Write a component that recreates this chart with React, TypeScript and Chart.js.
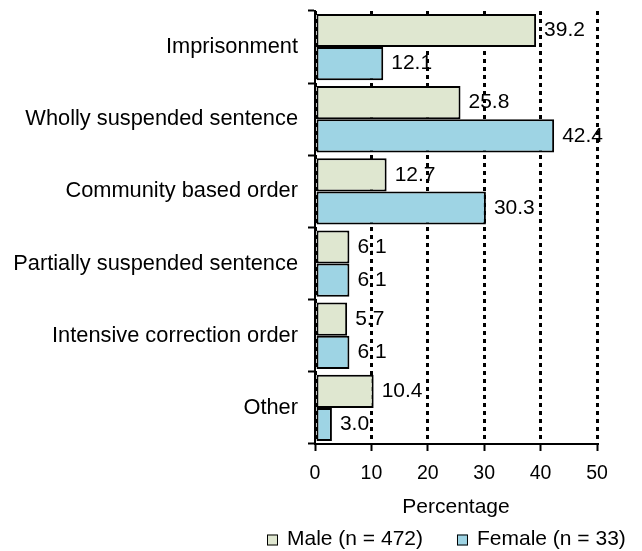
import React, { useEffect, useRef } from "react";
import { Chart, registerables } from "chart.js";

Chart.register(...registerables);

const categories = [
  "Imprisonment",
  "Wholly suspended sentence",
  "Community based order",
  "Partially suspended sentence",
  "Intensive correction order",
  "Other",
];
const maleValues = [39.2, 25.8, 12.7, 6.1, 5.7, 10.4];
const femaleValues = [12.1, 42.4, 30.3, 6.1, 6.1, 3.0];
const seriesLabels = ["Male (n = 472)", "Female (n = 33)"];
const seriesColors = ["#DFE7D0", "#9ED4E4"];
const xMin = 0;
const xMax = 50;
const xStep = 10;
const axisTitle = "Percentage";

const FONT = "'Liberation Sans', Arial, sans-serif";

const valueLabelPlugin = {
  id: "valueLabels",
  afterDatasetsDraw(chart: any) {
    const ctx = chart.ctx;
    ctx.save();
    ctx.font = `21px ${FONT}`;
    ctx.fillStyle = "#000";
    ctx.textAlign = "left";
    ctx.textBaseline = "middle";
    chart.data.datasets.forEach((ds: any, di: number) => {
      const meta = chart.getDatasetMeta(di);
      meta.data.forEach((el: any, i: number) => {
        const v = ds.data[i];
        ctx.fillText(Number(v).toFixed(1), el.x + 8, el.y);
      });
    });
    ctx.restore();
  },
};

const customLegendPlugin = {
  id: "customLegend",
  afterDraw(chart: any) {
    const ctx = chart.ctx;
    ctx.save();
    ctx.font = `21px ${FONT}`;
    ctx.textBaseline = "middle";
    ctx.textAlign = "left";
    let x = 267;
    const yCenter = 539;
    const box = 11;
    chart.data.datasets.forEach((ds: any) => {
      ctx.fillStyle = ds.backgroundColor;
      ctx.fillRect(x, yCenter - box / 2 + 1, box, box);
      ctx.strokeStyle = "#000";
      ctx.lineWidth = 1;
      ctx.strokeRect(x + 0.5, yCenter - box / 2 + 1.5, box - 1, box - 1);
      ctx.fillStyle = "#000";
      const tx = x + box + 9;
      ctx.fillText(ds.label, tx, yCenter);
      x = tx + ctx.measureText(ds.label).width + 34;
    });
    ctx.restore();
  },
};

export default function App() {
  const ref = useRef<HTMLCanvasElement | null>(null);

  useEffect(() => {
    if (!ref.current) return;
    const chart = new Chart(ref.current, {
      type: "bar",
      data: {
        labels: categories,
        datasets: [
          {
            label: seriesLabels[0],
            data: maleValues,
            backgroundColor: seriesColors[0],
            borderColor: "#000",
            borderWidth: 2,
            borderSkipped: false,
            categoryPercentage: 0.92,
            barPercentage: 1,
          },
          {
            label: seriesLabels[1],
            data: femaleValues,
            backgroundColor: seriesColors[1],
            borderColor: "#000",
            borderWidth: 2,
            borderSkipped: false,
            categoryPercentage: 0.92,
            barPercentage: 1,
          },
        ],
      },
      options: {
        indexAxis: "y",
        responsive: false,
        animation: false,
        layout: { padding: { top: 11, right: 45, bottom: 0, left: 0 } },
        plugins: {
          legend: { display: false },
          tooltip: { enabled: false },
        },
        scales: {
          x: {
            type: "linear",
            position: "bottom",
            min: xMin,
            max: xMax,
            ticks: {
              stepSize: xStep,
              color: "#000",
              padding: 11,
              font: { family: FONT, size: 19.5 },
            },
            grid: {
              color: "#000",
              lineWidth: 3,
              drawTicks: true,
              tickLength: 7,
              tickWidth: 2,
              tickColor: "#000",
              tickBorderDash: [],
            },
            border: { display: true, color: "#000", width: 2, dash: [4, 4] },
            title: {
              display: true,
              text: axisTitle,
              color: "#000",
              font: { family: FONT, size: 21 },
              padding: { top: 0, bottom: 31 },
            },
            afterFit: (scale: any) => {
              scale.height = 107;
              scale.paddingLeft = 0;
              scale.paddingRight = 0;
            },
          },
          y: {
            type: "category",
            ticks: {
              color: "#000",
              padding: 10,
              font: { family: FONT, size: 21.8 },
            },
            grid: {
              display: true,
              drawOnChartArea: false,
              drawTicks: true,
              tickLength: 7,
              tickWidth: 2,
              tickColor: "#000",
              color: "#000",
              offset: true,
            },
            border: { display: true, color: "#000", width: 2 },
            afterFit: (scale: any) => {
              scale.width = 315;
              scale.paddingTop = 0;
              scale.paddingBottom = 0;
            },
          },
        },
      },
      plugins: [valueLabelPlugin, customLegendPlugin],
    });
    return () => chart.destroy();
  }, []);

  return (
    <div style={{ position: "absolute", left: 0, top: 0, width: 642, height: 551, background: "#fff" }}>
      <canvas ref={ref} width={642} height={551} style={{ display: "block" }} />
    </div>
  );
}
